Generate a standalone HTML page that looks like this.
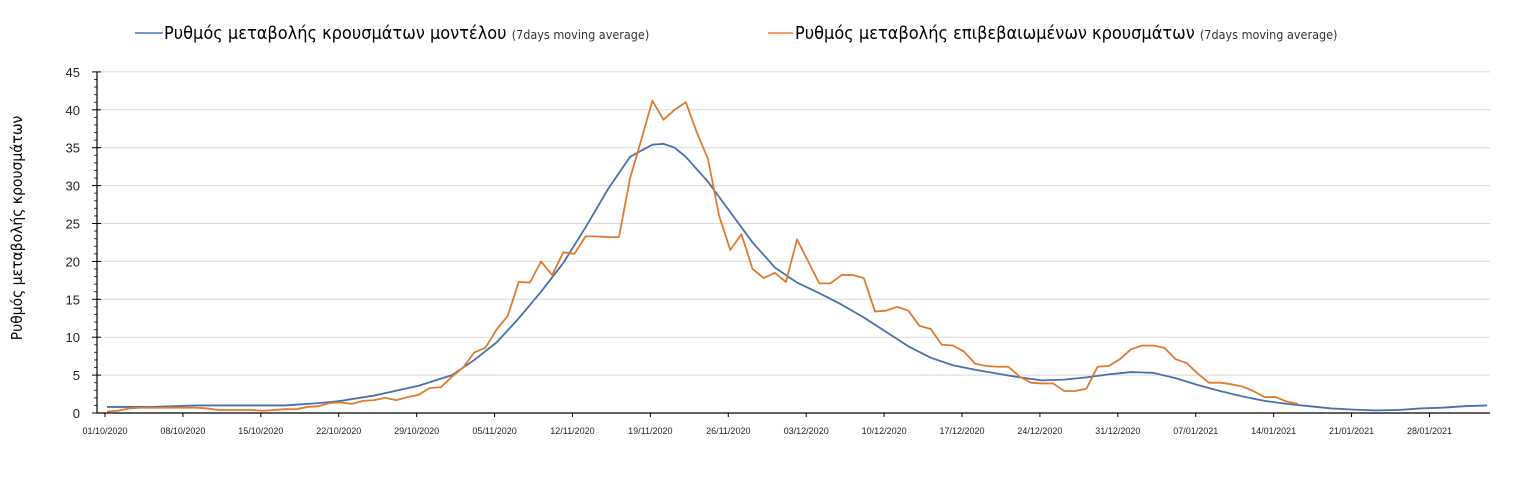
<!DOCTYPE html>
<html><head><meta charset="utf-8"><style>
body{margin:0;background:#fff;width:1534px;height:493px;overflow:hidden;font-family:"Liberation Sans",sans-serif}
</style></head><body>
<svg id="chart" width="1534" height="493" xmlns="http://www.w3.org/2000/svg">
<g id="legend">
 <g>
  <line x1="135" y1="33" x2="163" y2="33" stroke="#4472c4" stroke-width="1.5"/>
  <text x="164" y="39" font-size="18" fill="#000" font-family="DejaVu Sans Condensed, Liberation Sans, sans-serif">Ρυθμός μεταβολής κρουσμάτων μοντέλου <tspan font-size="12.5" fill="#333">(7days moving average)</tspan></text>
 </g>
 <g>
  <line x1="768" y1="33" x2="793" y2="33" stroke="#ed7d31" stroke-width="1.5"/>
  <text x="795" y="39" font-size="18" fill="#000" font-family="DejaVu Sans Condensed, Liberation Sans, sans-serif">Ρυθμός μεταβολής επιβεβαιωμένων κρουσμάτων <tspan font-size="12.5" fill="#333">(7days moving average)</tspan></text>
 </g>
</g>
<text transform="translate(22,228) rotate(-90)" text-anchor="middle" font-size="15.5" font-family="DejaVu Sans Condensed, Liberation Sans, sans-serif">Ρυθμός μεταβολής κρουσμάτων</text>
<g id="grid"></g>
<g id="axes"></g>
<g id="series"></g>
</svg>
<script>
const yTicks=[0,5,10,15,20,25,30,35,40,45];
const xTickLabels=["01/10/2020","08/10/2020","15/10/2020","22/10/2020","29/10/2020","05/11/2020","12/11/2020","19/11/2020","26/11/2020","03/12/2020","10/12/2020","17/12/2020","24/12/2020","31/12/2020","07/01/2021","14/01/2021","21/01/2021","28/01/2021"];
const confirmedValues=[0.2,0.3,0.6,0.7,0.7,0.7,0.7,0.7,0.7,0.6,0.4,0.4,0.4,0.4,0.3,0.4,0.5,0.5,0.8,0.9,1.3,1.4,1.2,1.6,1.7,2.0,1.7,2.1,2.4,3.3,3.4,4.8,6.0,8.0,8.6,11.0,12.8,17.3,17.2,20.0,18.2,21.2,21.0,23.3,23.3,23.2,23.2,31.0,36.0,41.2,38.7,40.0,41.0,37.0,33.5,26.0,21.5,23.6,19.0,17.8,18.5,17.3,22.9,20.0,17.1,17.1,18.2,18.2,17.8,13.4,13.5,14.0,13.5,11.5,11.1,9.0,8.9,8.1,6.5,6.2,6.1,6.1,4.8,4.0,3.9,3.9,2.9,2.9,3.2,6.1,6.2,7.1,8.4,8.9,8.9,8.6,7.1,6.6,5.2,4.0,4.0,3.8,3.5,2.9,2.1,2.1,1.5,1.2];
const modelDays=[0,4,8,16,19,21,24,28,31,33,35,37,39,41,43,45,47,49,50,51,52,54,56,58,60,62,64,66,68,70,72,74,76,78,80,82,84,86,88,90,92,94,96,98,100,102,104,106,108,110,112,114,116,118,120,122,124];
const modelValues=[0.8,0.8,1.0,1.0,1.3,1.6,2.3,3.6,5.0,7.0,9.3,12.5,16.0,19.8,24.5,29.5,33.8,35.4,35.5,35.0,33.8,30.5,26.5,22.5,19.2,17.2,15.8,14.3,12.6,10.7,8.8,7.3,6.3,5.7,5.2,4.7,4.3,4.4,4.7,5.1,5.4,5.3,4.6,3.7,2.9,2.2,1.6,1.2,0.9,0.6,0.45,0.35,0.4,0.6,0.7,0.9,1.0];
const X0=107,DAY=11.13,Y0=413,UNIT=7.58,XR=1490;
const xs=d=>X0+d*DAY, ys=v=>Y0-v*UNIT;
const NS="http://www.w3.org/2000/svg";
function mk(tag,attrs,parent){const e=document.createElementNS(NS,tag);for(const k in attrs)e.setAttribute(k,attrs[k]);parent.appendChild(e);return e;}
const grid=document.getElementById('grid'),axes=document.getElementById('axes'),series=document.getElementById('series');
yTicks.forEach(v=>{
 if(v>0){const g=mk('line',{x1:97,x2:XR,y1:ys(v),y2:ys(v),stroke:'#d9d9d9','stroke-width':1},grid);
 
 }
 const t=mk('text',{x:80,y:ys(v)+5,'text-anchor':'end','font-size':13,fill:'#222'},axes);
 t.textContent=v;
 
 
 mk('line',{x1:92,x2:101,y1:ys(v),y2:ys(v),stroke:'#000','stroke-width':1},axes);
});
for(let v=1;v<45;v++){if(v%5)mk('line',{x1:94,x2:97,y1:ys(v),y2:ys(v),stroke:'#333','stroke-width':1},axes);}
mk('line',{x1:97,x2:97,y1:ys(45),y2:Y0,stroke:'#000','stroke-width':1.2},axes);
mk('line',{x1:97,x2:XR,y1:Y0,y2:Y0,stroke:'#000','stroke-width':1.2},axes);
xTickLabels.forEach((lab,i)=>{
 const x=xs(i*7)-2;
 mk('line',{x1:x,x2:x,y1:Y0,y2:Y0+4,stroke:'#000'},axes);
 const t=mk('text',{x:x,y:Y0+21,'text-anchor':'middle','font-size':9,fill:'#222'},axes);
 t.textContent=lab;
 
 
});
const blue=mk('polyline',{points:modelDays.map((d,i)=>xs(d)+','+ys(modelValues[i])).join(' '),fill:'none',stroke:'#4a6fae','stroke-width':1.8,'stroke-linejoin':'round'},series);


const orange=mk('polyline',{points:confirmedValues.map((v,i)=>xs(i)+','+ys(v)).join(' '),fill:'none',stroke:'#e07b2e','stroke-width':1.8,'stroke-linejoin':'round'},series);


</script>
</body></html>
